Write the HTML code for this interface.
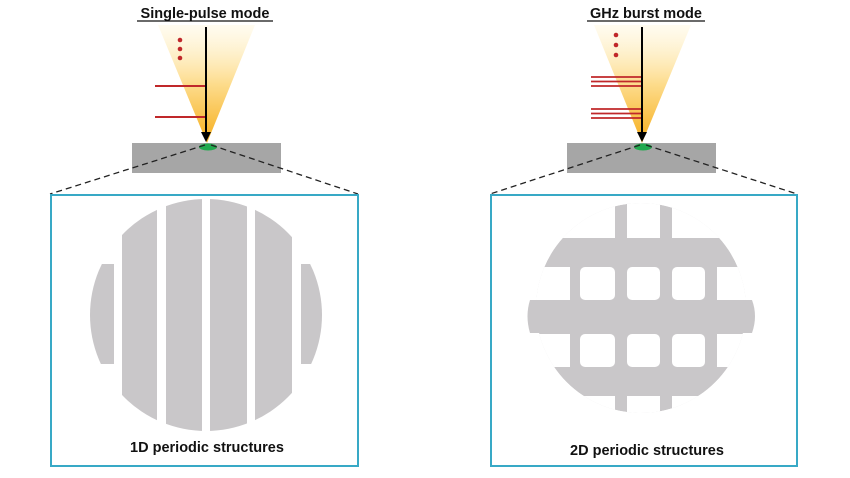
<!DOCTYPE html>
<html><head><style>
html,body{margin:0;padding:0;background:#fff;}
svg{display:block;}
text{font-family:"Liberation Sans",sans-serif;font-weight:bold;}
</style></head><body>
<svg width="850" height="478" viewBox="0 0 850 478" xmlns="http://www.w3.org/2000/svg">
<defs>
<linearGradient id="cone" x1="0" y1="0" x2="0" y2="1">
<stop offset="0" stop-color="#fff6d8" stop-opacity="0.4"/>
<stop offset="0.5" stop-color="#fddc8c"/>
<stop offset="1" stop-color="#f6ae1c"/>
</linearGradient>
<clipPath id="c1"><circle cx="206" cy="315" r="116"/></clipPath>
<clipPath id="c2"><circle cx="641" cy="308" r="105"/></clipPath>
</defs>

<!-- LEFT -->
<text x="205" y="18" font-size="14.5" text-anchor="middle" fill="#111">Single-pulse mode</text>
<line x1="137" y1="21" x2="273" y2="21" stroke="#111" stroke-width="1.2"/>
<polygon points="158,25 255,25 207,143" fill="url(#cone)"/>
<rect x="132" y="143" width="149" height="30" fill="#a6a6a6"/>
<ellipse cx="208" cy="147" rx="9" ry="3.5" fill="#22aa4e"/>
<line x1="205" y1="145" x2="50" y2="194" stroke="#222" stroke-width="1.3" stroke-dasharray="6,4"/>
<line x1="211" y1="145" x2="358" y2="194" stroke="#222" stroke-width="1.3" stroke-dasharray="6,4"/>
<line x1="155" y1="86" x2="206" y2="86" stroke="#c0282a" stroke-width="2"/>
<line x1="155" y1="117" x2="206" y2="117" stroke="#c0282a" stroke-width="2"/>
<circle cx="180" cy="40" r="2.3" fill="#c0282a"/>
<circle cx="180" cy="49" r="2.3" fill="#c0282a"/>
<circle cx="180" cy="58" r="2.3" fill="#c0282a"/>
<line x1="206" y1="27" x2="206" y2="133" stroke="#000" stroke-width="2"/>
<polygon points="201,132 211,132 206,142" fill="#000"/>
<rect x="51" y="195" width="307" height="271" fill="none" stroke="#38a9c6" stroke-width="2"/>
<g clip-path="url(#c1)" fill="#c9c7c9">
<rect x="88" y="264" width="26" height="100"/>
<rect x="122" y="190" width="35" height="250"/>
<rect x="166" y="190" width="36" height="250"/>
<rect x="210" y="190" width="37" height="250"/>
<rect x="255" y="190" width="37" height="250"/>
<rect x="301" y="264" width="24" height="100"/>
</g>
<text x="207" y="452" font-size="14.5" text-anchor="middle" fill="#111">1D periodic structures</text>

<!-- RIGHT -->
<text x="646" y="18" font-size="14.5" text-anchor="middle" fill="#111">GHz burst mode</text>
<line x1="587" y1="21" x2="705" y2="21" stroke="#111" stroke-width="1.2"/>
<polygon points="594,25 691,25 642,143" fill="url(#cone)"/>
<rect x="567" y="143" width="149" height="30" fill="#a6a6a6"/>
<ellipse cx="643" cy="147" rx="9" ry="3.5" fill="#22aa4e"/>
<line x1="640" y1="145" x2="490" y2="194" stroke="#222" stroke-width="1.3" stroke-dasharray="6,4"/>
<line x1="646" y1="145" x2="797" y2="194" stroke="#222" stroke-width="1.3" stroke-dasharray="6,4"/>
<g stroke="#c0282a" stroke-width="1.8">
<line x1="591" y1="77" x2="642" y2="77"/><line x1="591" y1="81.5" x2="642" y2="81.5"/><line x1="591" y1="86" x2="642" y2="86"/>
<line x1="591" y1="109" x2="642" y2="109"/><line x1="591" y1="113.5" x2="642" y2="113.5"/><line x1="591" y1="118" x2="642" y2="118"/>
</g>
<circle cx="616" cy="35" r="2.3" fill="#c0282a"/>
<circle cx="616" cy="45" r="2.3" fill="#c0282a"/>
<circle cx="616" cy="55" r="2.3" fill="#c0282a"/>
<line x1="642" y1="27" x2="642" y2="133" stroke="#000" stroke-width="2"/>
<polygon points="637,132 647,132 642,142" fill="#000"/>
<rect x="491" y="195" width="306" height="271" fill="none" stroke="#38a9c6" stroke-width="2"/>
<g clip-path="url(#c2)">
<circle cx="641" cy="308" r="105" fill="#c9c7c9"/>
<g fill="#fff">
<rect x="500" y="185" width="115" height="53"/>
<rect x="627" y="185" width="33" height="53"/>
<rect x="672" y="185" width="130" height="53"/>
<rect x="500" y="396" width="115" height="40"/>
<rect x="627" y="396" width="33" height="40"/>
<rect x="672" y="396" width="130" height="40"/>
<rect x="500" y="267" width="70" height="33"/>
<rect x="717" y="267" width="80" height="33"/>
<rect x="500" y="334" width="70" height="33"/>
<rect x="717" y="334" width="80" height="33"/>
<rect x="580" y="267" width="35" height="33" rx="5"/>
<rect x="627" y="267" width="33" height="33" rx="5"/>
<rect x="672" y="267" width="33" height="33" rx="5"/>
<rect x="580" y="334" width="35" height="33" rx="5"/>
<rect x="627" y="334" width="33" height="33" rx="5"/>
<rect x="672" y="334" width="33" height="33" rx="5"/>
</g>
</g>
<path d="M530,300 L752,300 Q758,316 752,333 L530,333 Q525,316 530,300 Z" fill="#c9c7c9"/>
<text x="647" y="455" font-size="14.5" text-anchor="middle" fill="#111">2D periodic structures</text>
</svg>
</body></html>
